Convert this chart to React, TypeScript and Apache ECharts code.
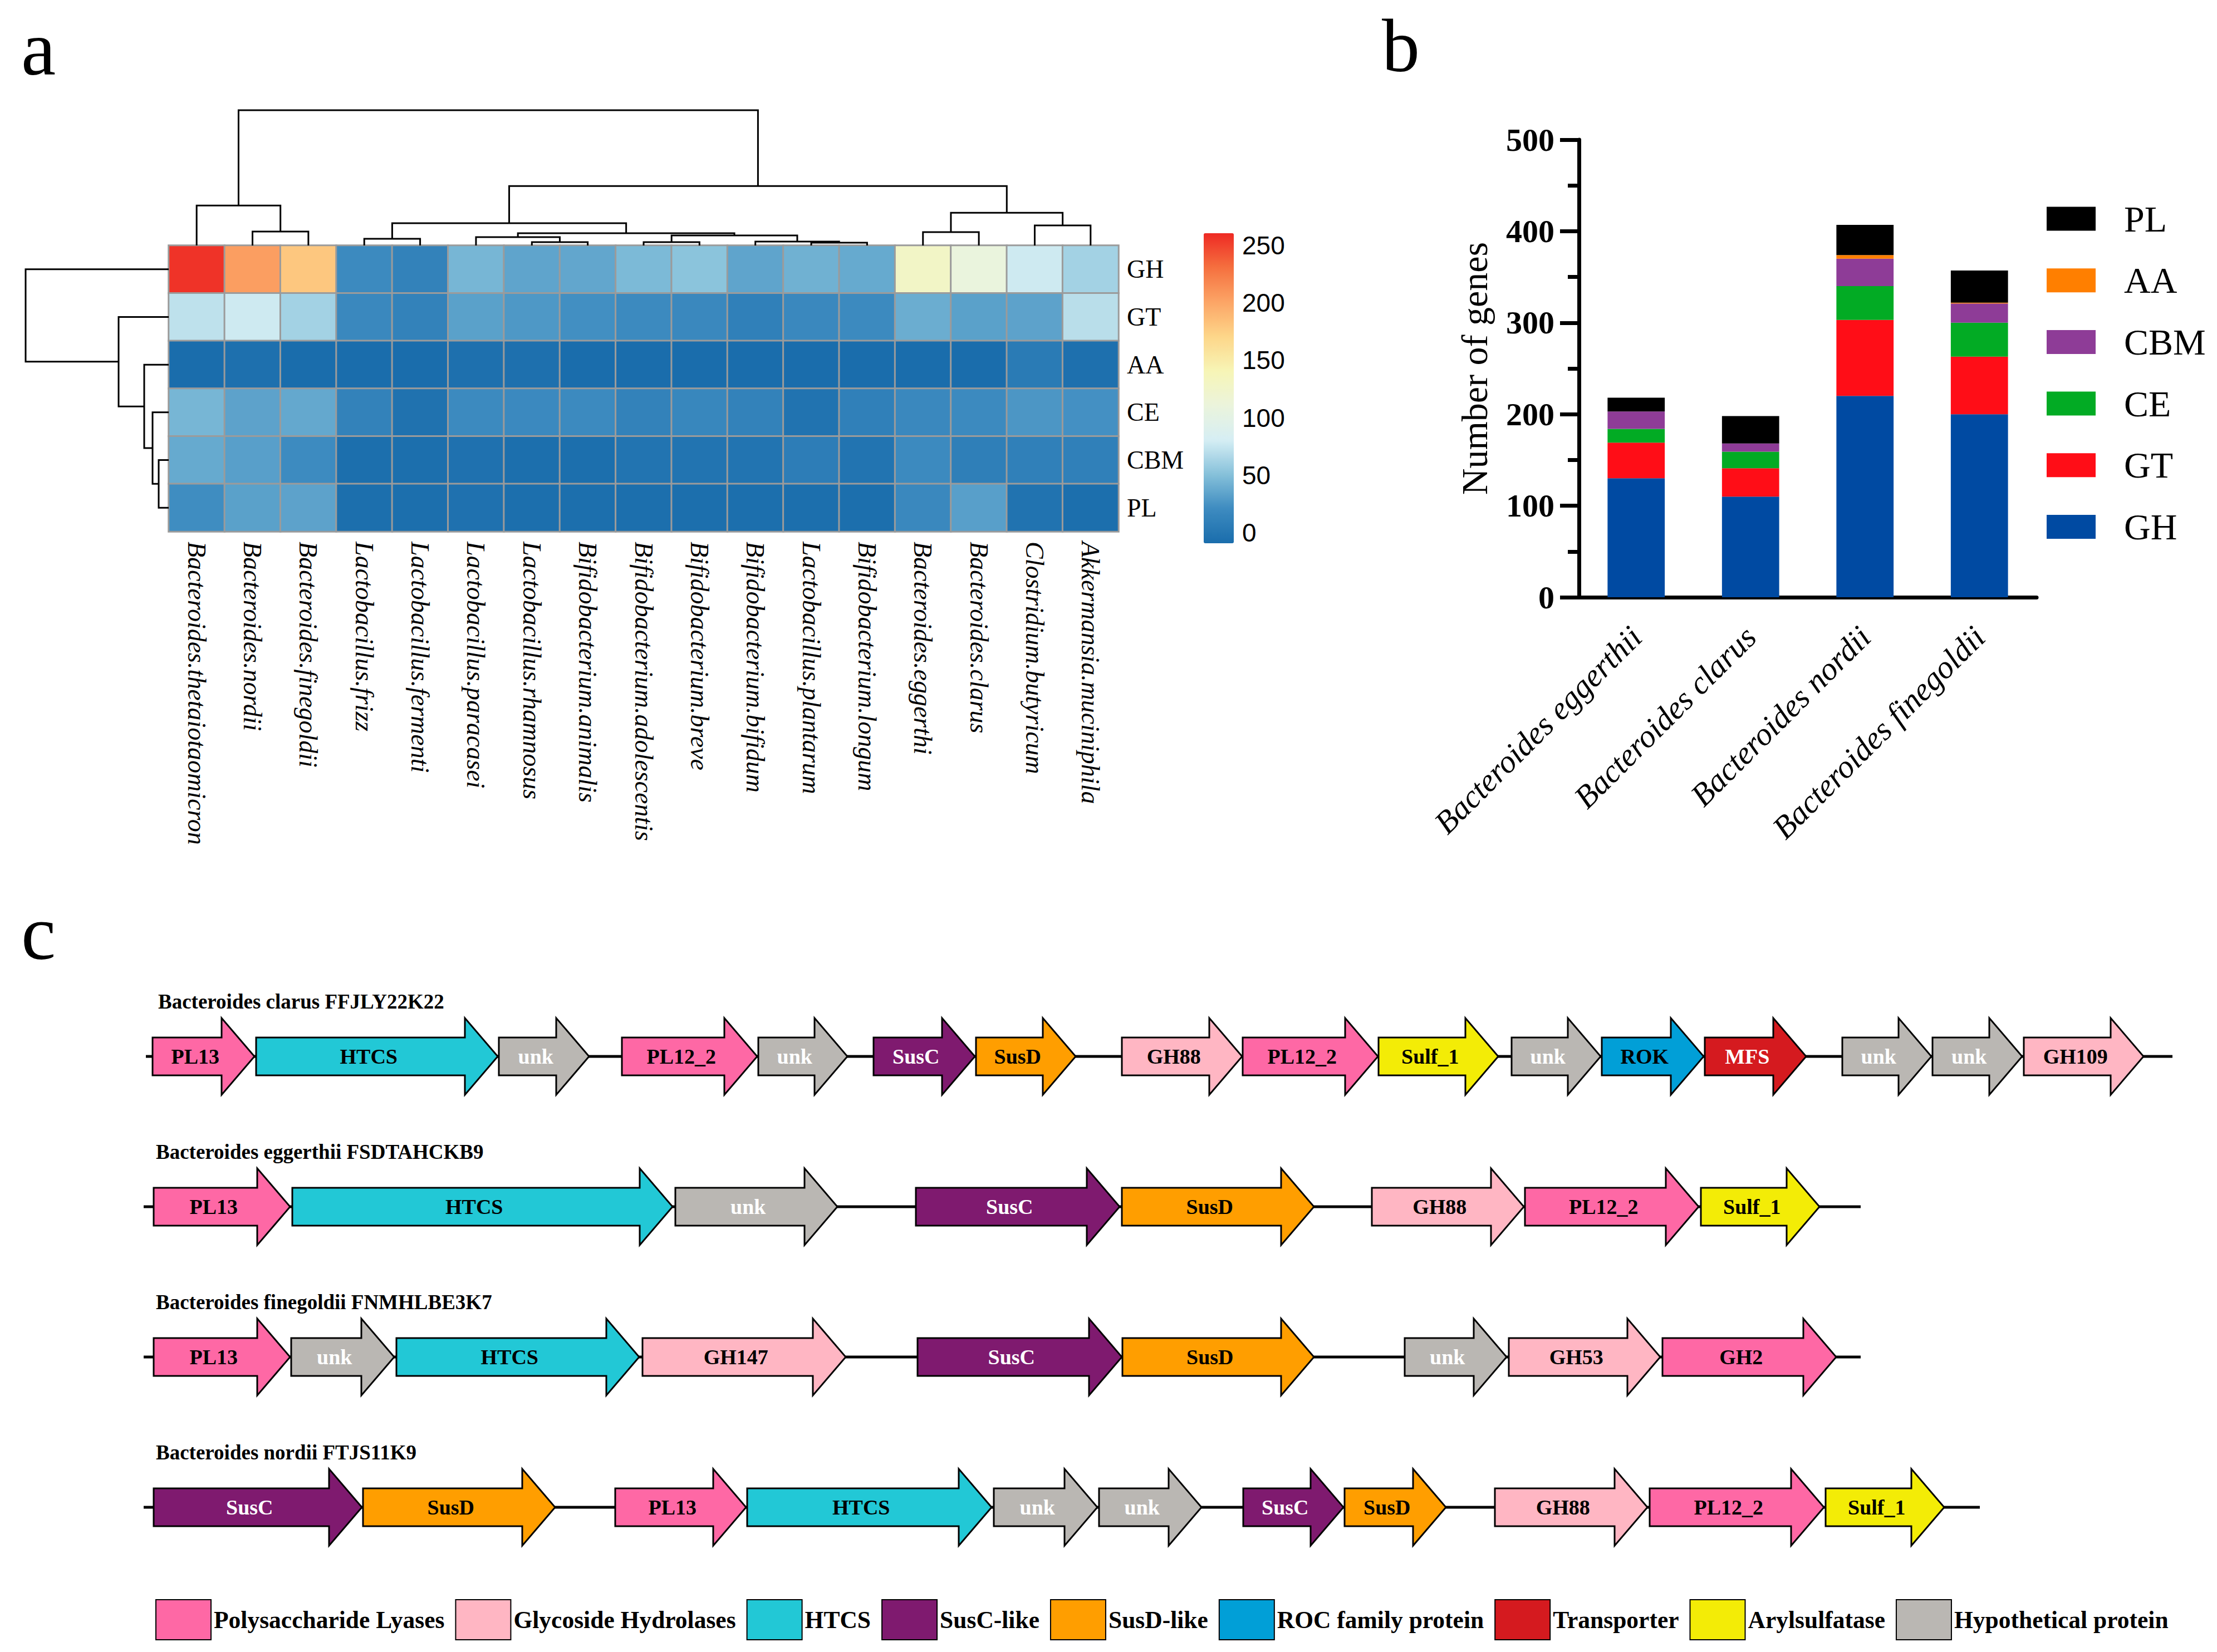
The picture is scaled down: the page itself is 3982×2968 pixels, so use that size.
import React, { useEffect, useRef } from 'react';
import * as echarts from 'echarts';

const W = 3982;
const H = 2968;
const SERIF = 'Liberation Serif';
const SANS = 'Liberation Sans';

// ---------------- Panel a : heatmap ----------------
const heatCols = [
  'Bacteroides.thetaiotaomicron', 'Bacteroides.nordii', 'Bacteroides.finegoldii',
  'Lactobacillus.frizz', 'Lactobacillus.fermenti', 'Lactobacillus.paracasei',
  'Lactobacillus.rhamnosus', 'Bifidobacterium.animalis', 'Bifidobacterium.adolescentis',
  'Bifidobacterium.breve', 'Bifidobacterium.bifidum', 'Lactobacillus.plantarum',
  'Bifidobacterium.longum', 'Bacteroides.eggerthi', 'Bacteroides.clarus',
  'Clostridium.butyricum', 'Akkermansia.muciniphila',
];
const heatRows = ['GH', 'GT', 'AA', 'CE', 'CBM', 'PL'];
const heatGH = [266, 214, 189, 29, 21, 54, 44, 45, 56, 62, 44, 51, 47, 137, 119, 87, 71];
const heatGT = [81, 87, 71, 27, 21, 42, 37, 32, 29, 27, 19, 27, 29, 49, 42, 43, 79];
const heatAA = [0, 3, 0, 0, 0, 3, 3, 0, 0, 0, 0, 0, 0, 0, 0, 14, 3];
const heatCE = [54, 43, 46, 21, 5, 29, 28, 29, 21, 26, 21, 6, 19, 27, 29, 36, 33];
const heatCBM = [47, 41, 30, 2, 2, 4, 2, 2, 7, 7, 7, 16, 7, 29, 18, 19, 19];
const heatPL = [31, 42, 43, 2, 2, 4, 2, 2, 2, 2, 2, 2, 2, 27, 41, 6, 2];
const heatMatrix = [heatGH, heatGT, heatAA, heatCE, heatCBM, heatPL];
const colorbarTicks = [0, 50, 100, 150, 200, 250];

// hclust-style merges: negative = leaf (1-based), positive = earlier merge (1-based), then height
const colMerge = [
  [-2, -3, 25], [-1, 1, 72], [-4, -5, 12], [-7, -8, 6], [-6, 4, 15],
  [-9, -10, 6], [-12, -13, 5], [-11, 7, 7], [6, 8, 18], [5, 9, 22],
  [3, 10, 40], [-14, -15, 24], [-16, -17, 36], [12, 13, 59], [11, 14, 107], [2, 15, 243.6],
];
const rowMerge = [
  [-5, -6, 18], [-4, 1, 29], [-3, 2, 44], [-2, 3, 90], [-1, 4, 257],
];

// ---------------- Panel b : stacked bars ----------------
const barSpecies = ['Bacteroides eggerthii', 'Bacteroides clarus', 'Bacteroides nordii', 'Bacteroides finegoldii'];
const barGH = [130, 110, 220, 200];
const barGT = [39, 31, 83, 63];
const barCE = [15, 18, 37, 37];
const barCBM = [19, 9, 30, 21];
const barAA = [0, 0, 4, 1];
const barPL = [15, 30, 33, 35];
const barLegendOrder = ['PL', 'AA', 'CBM', 'CE', 'GT', 'GH'];

// ---------------- Panel c : gene clusters ----------------
const clusterTitles = [
  'Bacteroides clarus FFJLY22K22',
  'Bacteroides eggerthii FSDTAHCKB9',
  'Bacteroides finegoldii FNMHLBE3K7',
  'Bacteroides nordii FTJS11K9',
];
const clusterSpans = [[262, 3902], [258, 3342], [258, 3342], [258, 3556]];
const clarusGenes = [
  [274, 457, 'PL13', 'PL'], [460, 894, 'HTCS', 'HTCS'], [896, 1058, 'unk', 'unk'],
  [1117, 1360, 'PL12_2', 'PL'], [1362, 1522, 'unk', 'unk'], [1569, 1751, 'SusC', 'SusC'],
  [1753, 1932, 'SusD', 'SusD'], [2015, 2231, 'GH88', 'GH'], [2232, 2475, 'PL12_2', 'PL'],
  [2476, 2691, 'Sulf_1', 'Sulf'], [2715, 2875, 'unk', 'unk'], [2877, 3060, 'ROK', 'ROK'],
  [3062, 3244, 'MFS', 'MFS'], [3309, 3469, 'unk', 'unk'], [3471, 3632, 'unk', 'unk'],
  [3635, 3850, 'GH109', 'GH'],
];
const eggerthiiGenes = [
  [276, 521, 'PL13', 'PL'], [525, 1208, 'HTCS', 'HTCS'], [1213, 1504, 'unk', 'unk'],
  [1645, 2011, 'SusC', 'SusC'], [2015, 2360, 'SusD', 'SusD'], [2464, 2737, 'GH88', 'GH'],
  [2739, 3051, 'PL12_2', 'PL'], [3055, 3268, 'Sulf_1', 'Sulf'],
];
const finegoldiiGenes = [
  [276, 521, 'PL13', 'PL'], [523, 708, 'unk', 'unk'], [712, 1148, 'HTCS', 'HTCS'],
  [1154, 1519, 'GH147', 'GH'], [1648, 2015, 'SusC', 'SusC'], [2016, 2360, 'SusD', 'SusD'],
  [2523, 2706, 'unk', 'unk'], [2710, 2982, 'GH53', 'GH'], [2986, 3298, 'GH2', 'PL'],
];
const nordiiGenes = [
  [276, 650, 'SusC', 'SusC'], [652, 997, 'SusD', 'SusD'], [1105, 1340, 'PL13', 'PL'],
  [1342, 1781, 'HTCS', 'HTCS'], [1785, 1971, 'unk', 'unk'], [1974, 2158, 'unk', 'unk'],
  [2233, 2413, 'SusC', 'SusC'], [2415, 2597, 'SusD', 'SusD'], [2685, 2959, 'GH88', 'GH'],
  [2963, 3276, 'PL12_2', 'PL'], [3279, 3492, 'Sulf_1', 'Sulf'],
];
const clusterGenes = [clarusGenes, eggerthiiGenes, finegoldiiGenes, nordiiGenes];

// styles (not data)
const geneCats = [
  { key: 'PL', name: 'Polysaccharide Lyases', color: '#FE68A5', ink: '#000' },
  { key: 'GH', name: 'Glycoside Hydrolases', color: '#FFB6C3', ink: '#000' },
  { key: 'HTCS', name: 'HTCS', color: '#22C8D6', ink: '#000' },
  { key: 'SusC', name: 'SusC-like', color: '#7F1A6F', ink: '#fff' },
  { key: 'SusD', name: 'SusD-like', color: '#FF9E00', ink: '#000' },
  { key: 'ROK', name: 'ROC family protein', color: '#019FD7', ink: '#000' },
  { key: 'MFS', name: 'Transporter', color: '#D51A1F', ink: '#fff' },
  { key: 'Sulf', name: 'Arylsulfatase', color: '#F3EC06', ink: '#000' },
  { key: 'unk', name: 'Hypothetical protein', color: '#BAB7B3', ink: '#fff' },
];
const barColors = { GH: '#004AA2', GT: '#FF0D17', CE: '#02AB24', CBM: '#8E3C97', AA: '#FF7F00', PL: '#000000' };
const heatColors = ['#1A6DAC', '#3D8BC0', '#86C1DA', '#D6EEF4', '#EBF4DC', '#F7F5B6', '#FDD689', '#FCA566', '#F5703F', '#EE2A24'];

function dendroSegments(merge: number[][]) {
  const nodes: { x: number; h: number }[] = [];
  const get = (id: number) => (id < 0 ? { x: -id - 0.5, h: 0 } : nodes[id - 1]);
  return merge.map(([a, b, h]) => {
    const A = get(a);
    const B = get(b);
    nodes.push({ x: (A.x + B.x) / 2, h });
    return [A.x, A.h, B.x, B.h, h];
  });
}

function buildOption() {
  const heatData: number[][] = [];
  heatMatrix.forEach((row, r) => row.forEach((v, c) => heatData.push([c, r, v])));

  const colSegs = dendroSegments(colMerge);
  const rowSegs = dendroSegments(rowMerge);

  const hiddenAxis = { show: false };

  const xAxis: any[] = [
    {
      gridIndex: 0, type: 'category', data: heatCols,
      axisLine: { show: false }, axisTick: { show: false }, splitLine: { show: false },
      axisLabel: { rotate: -90, interval: 0, margin: 18, fontFamily: SERIF, fontStyle: 'italic', fontSize: 46, color: '#000' },
    },
    { gridIndex: 1, type: 'value', min: 0, max: heatCols.length, ...hiddenAxis },
    { gridIndex: 2, type: 'value', min: 0, max: 257, inverse: true, ...hiddenAxis },
    { gridIndex: 3, type: 'value', min: 0, max: 1, ...hiddenAxis },
    {
      gridIndex: 4, type: 'category', data: barSpecies,
      axisLine: { lineStyle: { color: '#000', width: 7 } },
      axisTick: { alignWithLabel: true, length: 34, lineStyle: { color: '#000', width: 7 } },
      axisLabel: { rotate: 45, interval: 0, margin: 62, fontFamily: SERIF, fontStyle: 'italic', fontSize: 58, color: '#000' },
    },
    { gridIndex: 5, type: 'value', min: 0, max: W, ...hiddenAxis },
  ];
  const yAxis: any[] = [
    {
      gridIndex: 0, type: 'category', data: heatRows, inverse: true, position: 'right',
      axisLine: { show: false }, axisTick: { show: false }, splitLine: { show: false },
      axisLabel: { margin: 15, fontFamily: SERIF, fontSize: 46, color: '#000' },
    },
    { gridIndex: 1, type: 'value', min: 0, max: 243.6, ...hiddenAxis },
    { gridIndex: 2, type: 'value', min: 0, max: heatRows.length, inverse: true, ...hiddenAxis },
    {
      gridIndex: 3, type: 'value', min: 0, max: 250, interval: 50, position: 'right',
      axisLine: { show: false }, axisTick: { show: false }, splitLine: { show: false },
      axisLabel: { margin: 15, fontFamily: SANS, fontSize: 46, color: '#000' },
    },
    {
      gridIndex: 4, type: 'value', min: 0, max: 500, interval: 100,
      axisLine: { show: true, lineStyle: { color: '#000', width: 7 } },
      axisTick: { show: true, length: 34, lineStyle: { color: '#000', width: 7 } },
      minorTick: { show: true, splitNumber: 2, length: 20, lineStyle: { color: '#000', width: 7 } },
      splitLine: { show: false }, minorSplitLine: { show: false },
      axisLabel: { margin: 44, fontFamily: SERIF, fontWeight: 'bold', fontSize: 58, color: '#000' },
      name: 'Number of genes', nameLocation: 'middle', nameGap: 155,
      nameTextStyle: { fontFamily: SERIF, fontSize: 66, color: '#000' },
    },
    { gridIndex: 5, type: 'value', min: 0, max: 4, inverse: true, ...hiddenAxis },
  ];

  const series: any[] = [];
  series.push({
    type: 'heatmap', xAxisIndex: 0, yAxisIndex: 0, data: heatData,
    itemStyle: { borderColor: '#9B9B9B', borderWidth: 3 },
    emphasis: { disabled: true }, silent: true,
  });
  series.push({
    type: 'custom', xAxisIndex: 1, yAxisIndex: 1, data: colSegs, silent: true,
    renderItem: (params: any, api: any) => {
      const v = [0, 1, 2, 3, 4].map((i) => api.value(i));
      const p = (x: number, h: number) => api.coord([x, h]);
      return {
        type: 'polyline',
        shape: { points: [p(v[0], v[1]), p(v[0], v[4]), p(v[2], v[4]), p(v[2], v[3])] },
        style: { stroke: '#000', lineWidth: 3, fill: null },
      };
    },
  });
  series.push({
    type: 'custom', xAxisIndex: 2, yAxisIndex: 2, data: rowSegs, silent: true,
    renderItem: (params: any, api: any) => {
      const v = [0, 1, 2, 3, 4].map((i) => api.value(i));
      const p = (x: number, h: number) => api.coord([h, x]);
      return {
        type: 'polyline',
        shape: { points: [p(v[0], v[1]), p(v[0], v[4]), p(v[2], v[4]), p(v[2], v[3])] },
        style: { stroke: '#000', lineWidth: 3, fill: null },
      };
    },
  });
  series.push({
    type: 'scatter', xAxisIndex: 3, yAxisIndex: 3, data: colorbarTicks.map((t) => [0.5, t]),
    symbolSize: 0, silent: true, itemStyle: { opacity: 0 },
  });
  const barSets: [string, number[]][] = [['GH', barGH], ['GT', barGT], ['CE', barCE], ['CBM', barCBM], ['AA', barAA], ['PL', barPL]];
  barSets.forEach(([name, vals]) => {
    series.push({
      type: 'bar', name, stack: 'total', xAxisIndex: 4, yAxisIndex: 4, data: vals,
      barWidth: '50%', itemStyle: { color: (barColors as any)[name] }, silent: true,
    });
  });
  series.push({
    type: 'custom', xAxisIndex: 5, yAxisIndex: 5, silent: true,
    data: clusterSpans.map((s, r) => [s[0], r + 0.5, s[1]]),
    renderItem: (params: any, api: any) => {
      const a = api.coord([api.value(0), api.value(1)]);
      const b = api.coord([api.value(2), api.value(1)]);
      return {
        type: 'group',
        children: [
          { type: 'line', shape: { x1: a[0], y1: a[1], x2: b[0], y2: b[1] }, style: { stroke: '#000', lineWidth: 5 } },
          {
            type: 'text', x: a[0] + 22, y: a[1] - 99,
            style: { text: clusterTitles[params.dataIndex], fill: '#000', fontFamily: SERIF, fontWeight: 'bold', fontSize: 37, align: 'left', verticalAlign: 'middle' },
          },
        ],
      };
    },
  });
  geneCats.forEach((cat) => {
    const items: number[][] = [];
    const labels: string[] = [];
    clusterGenes.forEach((genes, r) => {
      genes.forEach((g: any) => {
        if (g[3] === cat.key) {
          items.push([g[0], r + 0.5, g[1]]);
          labels.push(g[2]);
        }
      });
    });
    series.push({
      type: 'custom', name: cat.name, xAxisIndex: 5, yAxisIndex: 5, data: items, silent: true,
      itemStyle: { color: cat.color },
      renderItem: (params: any, api: any) => {
        const s = api.coord([api.value(0), api.value(1)]);
        const e = api.coord([api.value(2), api.value(1)]);
        const x0 = s[0];
        const x1 = e[0];
        const y = s[1];
        const head = Math.min(59, (x1 - x0) * 0.6);
        const bh = 34;
        const hh = 69;
        const pts = [[x0, y - bh], [x1 - head, y - bh], [x1 - head, y - hh], [x1, y], [x1 - head, y + hh], [x1 - head, y + bh], [x0, y + bh]];
        return {
          type: 'group',
          children: [
            { type: 'polygon', shape: { points: pts }, style: { fill: cat.color, stroke: '#000', lineWidth: 3, lineJoin: 'miter' } },
            {
              type: 'text', x: (x0 + x1 - head / 2) / 2, y,
              style: { text: labels[params.dataIndex], fill: cat.ink, fontFamily: SERIF, fontWeight: 'bold', fontSize: 38, align: 'center', verticalAlign: 'middle' },
            },
          ],
        };
      },
    });
  });

  return {
    animation: false,
    backgroundColor: '#fff',
    textStyle: { fontFamily: SERIF },
    grid: [
      { left: 303, top: 441, width: 1706, height: 514 },
      { left: 303, top: 198, width: 1706, height: 243 },
      { left: 46, top: 441, width: 257, height: 514 },
      { left: 2162, top: 441, width: 54, height: 516 },
      { left: 2836, top: 251, width: 822, height: 822 },
      { left: 0, top: 1763, width: W, height: 1080 },
    ],
    xAxis,
    yAxis,
    visualMap: [{
      type: 'continuous', seriesIndex: 0, min: 0, max: 270, calculable: false, hoverLink: false,
      inRange: { color: heatColors }, left: 2162, top: 419, itemWidth: 54, itemHeight: 557, padding: 0,
      orient: 'vertical', showLabel: false,
    }],
    legend: [
      {
        data: barLegendOrder, orient: 'vertical', left: 3676, top: 360, itemWidth: 88, itemHeight: 43, itemGap: 44.7,
        icon: 'rect', selectedMode: false, padding: 0,
        textStyle: { fontFamily: SERIF, fontSize: 66, lineHeight: 66, color: '#000', padding: [0, 0, 0, 46] },
      },
      {
        data: geneCats.map((c) => c.name), orient: 'horizontal', left: 279, top: 2873, width: 3700,
        itemWidth: 99, itemHeight: 72, itemGap: 19, icon: 'rect', selectedMode: false, padding: 0,
        itemStyle: { borderColor: '#000', borderWidth: 2 },
        textStyle: { fontFamily: SERIF, fontSize: 43.5, fontWeight: 'bold', color: '#000' },
      },
    ],
    graphic: [
      { type: 'text', left: 38, top: 16, style: { text: 'a', fontFamily: SERIF, fontSize: 140, fill: '#000' } },
      { type: 'text', left: 2482, top: 14, style: { text: 'b', fontFamily: SERIF, fontSize: 136, fill: '#000' } },
      { type: 'text', left: 38, top: 1605, style: { text: 'c', fontFamily: SERIF, fontSize: 140, fill: '#000' } },
    ],
    series,
  };
}

export default function App() {
  const ref = useRef<HTMLDivElement>(null);
  useEffect(() => {
    document.body.style.margin = '0';
    if (!ref.current) return;
    const chart = echarts.init(ref.current, undefined, { renderer: 'svg' });
    chart.setOption(buildOption() as any);
    return () => chart.dispose();
  }, []);
  return <div ref={ref} style={{ width: W, height: H, background: '#fff' }} />;
}
